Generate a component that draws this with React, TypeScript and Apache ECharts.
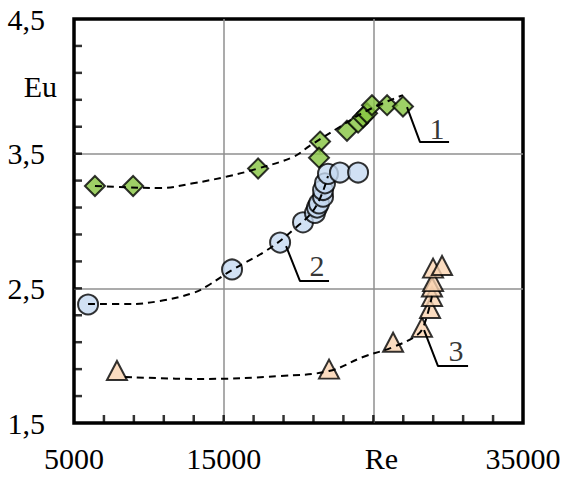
import React, { useEffect, useRef } from "react";
import * as echarts from "echarts";

// ---- axis labels ----
const xLabelValues = [5000, 15000, 25000, 35000];
const xLabelTexts = ["5000", "15000", "Re", "35000"];
const yLabelValues = [1.5, 2.5, 3.5, 4.0, 4.5];
const yLabelTexts = ["1,5", "2,5", "3,5", "Eu", "4,5"];
// minor tick spacing along each axis
const xTickStep = 2000;
const yTickStep = 0.2;

// ---- series 1 (diamonds) ----
const s1Re = [6400, 8950, 17300, 21440, 21370, 23240, 23980, 24310, 24580, 24910, 25920, 26980];
const s1Eu = [3.26, 3.26, 3.39, 3.59, 3.47, 3.67, 3.73, 3.77, 3.80, 3.86, 3.86, 3.85];
// ---- series 2 (circles) ----
const s2Re = [5940, 15560, 18770, 20300, 21100, 21240, 21370, 21640, 21640, 21770, 21970, 22770, 23980];
const s2Eu = [2.38, 2.64, 2.84, 2.99, 3.06, 3.10, 3.13, 3.18, 3.23, 3.28, 3.35, 3.36, 3.36];
// ---- series 3 (triangles) ----
const s3Re = [7870, 22040, 26320, 28250, 28790, 28920, 28920, 28990, 28990, 29590];
const s3Eu = [1.89, 1.90, 2.10, 2.21, 2.35, 2.44, 2.51, 2.55, 2.65, 2.67];

// ---- trend curves ----
const t1Re = [6400, 8540, 10750, 12950, 15220, 17290, 19630, 20770, 22770, 24580, 26980];
const t1Eu = [3.26, 3.25, 3.245, 3.28, 3.33, 3.39, 3.475, 3.56, 3.70, 3.82, 3.935];
const t2Re = [5940, 8540, 10750, 12950, 13890, 15560, 17900, 19630, 21100, 21970];
const t2Eu = [2.383, 2.383, 2.406, 2.465, 2.517, 2.636, 2.784, 2.933, 3.096, 3.334];
const t3Re = [8410, 13420, 18770, 22040, 24310, 26320, 27920, 28390, 28920];
const t3Eu = [1.842, 1.827, 1.849, 1.886, 1.99, 2.064, 2.153, 2.228, 2.443];

// ---- leader lines and curve numbers ----
const leader1Re = [27250, 28120, 30060];
const leader1Eu = [3.846, 3.586, 3.586];
const leader2Re = [19170, 20100, 22040];
const leader2Eu = [2.814, 2.554, 2.554];
const leader3Re = [28390, 29320, 31330];
const leader3Eu = [2.19, 1.923, 1.923];
const numberTexts = ["1", "2", "3"];
const numberRe = [29250, 21240, 30520];
const numberEu = [3.69, 2.673, 2.035];

const X_MIN = 5000;
const X_MAX = 35000;
const Y_MIN = 1.5;
const Y_MAX = 4.5;

const pairs = (xs: number[], ys: number[]) => xs.map((x, i) => [x, ys[i]]);

const FONT = "Liberation Serif";
const GRID_GRAY = "#8f8f8f";
const T = "rgba(0,0,0,0)";

export default function App() {
  const ref = useRef<HTMLDivElement>(null);
  useEffect(() => {
    if (!ref.current) return;
    const chart = echarts.init(ref.current, null, { renderer: "svg" });

    const xTicks: number[][] = [];
    const nx = Math.round((X_MAX - X_MIN) / xTickStep);
    for (let i = 1; i < nx; i++) xTicks.push([X_MIN + i * xTickStep, Y_MIN]);
    const yTicks: number[][] = [];
    const ny = Math.round((Y_MAX - Y_MIN) / yTickStep);
    for (let i = 1; i < ny; i++) yTicks.push([X_MIN, +(Y_MIN + i * yTickStep).toFixed(3)]);

    const gridAxisCommon = {
      type: "value" as const,
      axisLine: { show: false, onZero: false },
      axisLabel: { show: false },
      axisTick: { show: false },
      splitLine: {
        show: true,
        showMinLine: false,
        showMaxLine: false,
        lineStyle: { color: [T, T, T, T, GRID_GRAY], width: 1.5 },
      },
    };
    const leader = (xs: number[], ys: number[]) => ({
      type: "line",
      data: pairs(xs, ys),
      symbol: "none",
      lineStyle: { color: "#000", width: 2 },
      z: 6,
      silent: true,
    });
    const trend = (xs: number[], ys: number[]) => ({
      type: "line",
      data: pairs(xs, ys),
      symbol: "none",
      smooth: 0.4,
      lineStyle: { color: "#000", width: 2, type: [7, 5] },
      z: 5,
      silent: true,
    });
    const markerStyle = (color: string) => ({ color, borderColor: "#000", borderWidth: 2 });
    chart.setOption({
      animation: false,
      textStyle: { fontFamily: FONT },
      grid: {
        left: 74,
        top: 19,
        right: 43,
        bottom: 56,
        show: true,
        borderColor: "#000",
        borderWidth: 3.5,
        backgroundColor: "#fff",
      },
      xAxis: [
        {
          type: "value",
          min: X_MIN,
          max: X_MAX,
          interval: 5000,
          position: "bottom",
          axisLine: { show: false, onZero: false },
          axisTick: { show: false },
          splitLine: { show: false },
          axisLabel: {
            margin: 20,
            fontSize: 30,
            fontFamily: FONT,
            color: "#000",
            formatter: (v: number) => {
              const i = xLabelValues.indexOf(v);
              if (i < 0) return "";
              const t = xLabelTexts[i];
              return t === "Re" ? "{r|" + t + "}" : "{n|" + t + "}";
            },
            rich: {
              n: { fontSize: 30, fontFamily: FONT, color: "#000" },
              r: { fontSize: 30, fontFamily: FONT, color: "#000", padding: [0, 0, 0, 16] },
            },
          },
        },
        { ...gridAxisCommon, min: 0, max: X_MAX - X_MIN, interval: xTickStep, position: "bottom" },
      ],
      yAxis: [
        {
          type: "value",
          min: Y_MIN,
          max: Y_MAX,
          interval: 0.5,
          position: "left",
          axisLine: { show: false, onZero: false },
          axisTick: { show: false },
          splitLine: { show: false },
          axisLabel: {
            margin: 17,
            fontSize: 30,
            fontFamily: FONT,
            color: "#000",
            formatter: (v: number) => {
              const i = yLabelValues.findIndex((y) => Math.abs(y - v) < 1e-6);
              if (i < 0) return "";
              const t = yLabelTexts[i];
              return t === "Eu" ? "{e|" + t + "}" : "{n|" + t + "}";
            },
            rich: {
              n: { fontSize: 30, fontFamily: FONT, color: "#000", padding: [0, 12, 0, 0] },
              e: { fontSize: 30, fontFamily: FONT, color: "#000" },
            },
          },
        },
        { ...gridAxisCommon, min: 0, max: 15, interval: 1, position: "left" },
      ],
      series: [
        {
          type: "scatter",
          data: pairs(s1Re, s1Eu),
          symbol: "diamond",
          symbolSize: 20,
          itemStyle: markerStyle("#86c440"),
          z: 3,
        },
        {
          type: "scatter",
          data: pairs(s2Re, s2Eu),
          symbol: "circle",
          symbolSize: 20,
          itemStyle: markerStyle("#c6d9f1"),
          z: 3,
        },
        {
          type: "scatter",
          data: pairs(s3Re, s3Eu),
          symbol: "triangle",
          symbolSize: [20, 19],
          itemStyle: markerStyle("#fad3b0"),
          z: 3,
        },
        trend(t1Re, t1Eu),
        trend(t2Re, t2Eu),
        trend(t3Re, t3Eu),
        leader(leader1Re, leader1Eu),
        leader(leader2Re, leader2Eu),
        leader(leader3Re, leader3Eu),
        {
          type: "scatter",
          data: numberRe.map((x, i) => ({ value: [x, numberEu[i]], name: numberTexts[i] })),
          symbol: "circle",
          symbolSize: 1,
          itemStyle: { color: T },
          label: {
            show: true,
            position: "inside",
            formatter: (p: any) => p.name,
            fontSize: 30,
            fontFamily: FONT,
            color: "#000",
            textBorderWidth: 0,
            textBorderColor: T,
          },
          z: 7,
          silent: true,
        },
        // inside tick marks along the bottom axis
        {
          type: "scatter",
          data: xTicks,
          symbol: "rect",
          symbolSize: [2.5, 8],
          symbolOffset: [0, -4],
          itemStyle: { color: "#000" },
          clip: false,
          silent: true,
          z: 8,
        },
        // inside tick marks along the left axis
        {
          type: "scatter",
          data: yTicks,
          symbol: "rect",
          symbolSize: [8, 2.5],
          symbolOffset: [4, 0],
          itemStyle: { color: "#000" },
          clip: false,
          silent: true,
          z: 8,
        },
      ],
    });
    return () => chart.dispose();
  }, []);
  return (
    <div
      ref={ref}
      style={{ position: "fixed", left: 0, top: 0, width: 566, height: 479, background: "#fff" }}
    />
  );
}
